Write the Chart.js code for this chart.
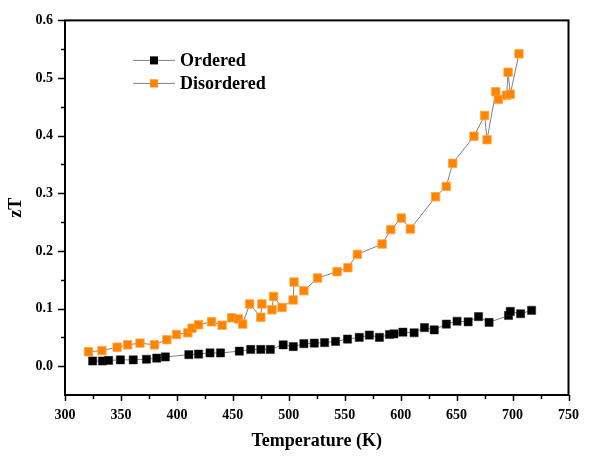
<!DOCTYPE html>
<html>
<head>
<meta charset="utf-8">
<script src="https://cdn.jsdelivr.net/npm/chart.js@4.4.1/dist/chart.umd.min.js"></script>
<style>
  html, body { margin: 0; padding: 0; background: #fff; }
  #wrap { width: 591px; height: 456px; position: relative; }
</style>
</head>
<body>
<div id="wrap"><canvas id="zt"></canvas></div>
<script>
// Measured zT vs temperature for the two samples
const orderedT = [324.7, 333.5, 339, 349.5, 361, 372.8, 382, 389.7, 410.7, 419.4, 429.6, 439,
  455.8, 466, 475, 483.5, 495, 504, 513.5, 522.8, 532, 541.8, 552.5, 563, 572, 581, 590, 594,
  602, 612, 621.3, 630, 640.8, 650.4, 660.3, 669.6, 679, 696.4, 698, 707.2, 717];
const orderedZT = [0.009, 0.009, 0.010, 0.011, 0.011, 0.012, 0.014, 0.016, 0.020, 0.021, 0.023, 0.023,
  0.026, 0.029, 0.029, 0.029, 0.037, 0.034, 0.039, 0.040, 0.041, 0.043, 0.047, 0.050, 0.054, 0.050, 0.055, 0.056,
  0.059, 0.058, 0.067, 0.063, 0.073, 0.078, 0.077, 0.086, 0.076, 0.088, 0.095, 0.091, 0.097];

const disorderedT = [321, 333, 346.6, 356, 367, 380, 391, 399.6, 409.8, 413.6, 419.4, 431, 440.4,
  449, 455, 458.8, 465, 475, 476, 485, 486.4, 494, 503.9, 504.7, 513.5, 525.7, 543.2, 552.8,
  561.3, 583.4, 591.2, 600.6, 608.7, 631.2, 640.8, 646.5, 665.5, 675, 677.2, 685, 687.4,
  694.7, 696, 698, 705.7];
const disorderedZT = [0.025, 0.027, 0.033, 0.037, 0.040, 0.037, 0.046, 0.055, 0.058, 0.066, 0.072, 0.077, 0.071,
  0.084, 0.082, 0.073, 0.108, 0.085, 0.108, 0.098, 0.121, 0.102, 0.115, 0.146, 0.131, 0.153, 0.164, 0.171,
  0.194, 0.212, 0.237, 0.257, 0.238, 0.294, 0.312, 0.352, 0.399, 0.435, 0.393, 0.476, 0.463,
  0.470, 0.510, 0.472, 0.542];

const seriesLabels = ['Ordered', 'Disordered'];
const markerColors = ['#000000', '#FF8400'];

const serif = 'Liberation Serif';

function toPoints(xs, ys) {
  return xs.map((t, i) => ({ x: t, y: ys[i] }));
}

// Box around the plot plus outward major/minor tick marks
const frameAndTicks = {
  id: 'frameAndTicks',
  afterDatasetsDraw(chart) {
    const { ctx, chartArea: a, scales: { x, y } } = chart;
    ctx.save();
    ctx.strokeStyle = '#000';
    ctx.lineWidth = 1.5;
    ctx.beginPath();
    x.ticks.forEach(t => {
      const px = Math.round(x.getPixelForValue(t.value)) + 0.5;
      const len = Math.round(t.value) % 50 === 0 ? 6 : 4;
      ctx.moveTo(px, a.bottom);
      ctx.lineTo(px, a.bottom + len);
    });
    y.ticks.forEach(t => {
      if (t.value < -0.001) return;
      const py = Math.round(y.getPixelForValue(t.value)) + 0.5;
      const len = Math.round(t.value * 100) % 10 === 0 ? 7 : 4;
      ctx.moveTo(a.left, py);
      ctx.lineTo(a.left - len, py);
    });
    ctx.stroke();
    ctx.lineWidth = 2;
    ctx.strokeRect(a.left, a.top, a.right - a.left, a.bottom - a.top);
    ctx.restore();
  }
};

// Legend in the upper-left of the plot: line - marker - line, then the label
const insetLegend = {
  id: 'insetLegend',
  afterDraw(chart) {
    const { ctx, chartArea: a } = chart;
    ctx.save();
    chart.data.datasets.forEach((ds, i) => {
      const yy = a.top + 40 + i * 23;
      const x0 = a.left + 68;
      ctx.strokeStyle = ds.borderColor;
      ctx.lineWidth = 1;
      ctx.beginPath();
      ctx.moveTo(x0, yy);
      ctx.lineTo(x0 + 42, yy);
      ctx.stroke();
      ctx.fillStyle = ds.pointBackgroundColor;
      ctx.fillRect(x0 + 17, yy - 4, 8, 8);
      ctx.fillStyle = '#000';
      ctx.font = 'bold 18px "' + serif + '"';
      ctx.textBaseline = 'middle';
      ctx.textAlign = 'left';
      ctx.fillText(ds.label, x0 + 47, yy + 1);
    });
    ctx.restore();
  }
};

new Chart(document.getElementById('zt'), {
  type: 'scatter',
  data: {
    datasets: [
      {
        label: seriesLabels[0],
        data: toPoints(orderedT, orderedZT),
        showLine: true,
        borderColor: '#808080',
        borderWidth: 1,
        pointStyle: 'rect',
        pointRadius: 5.8,
        pointBackgroundColor: markerColors[0],
        pointBorderColor: '#222',
        pointBorderWidth: 0.5
      },
      {
        label: seriesLabels[1],
        data: toPoints(disorderedT, disorderedZT),
        showLine: true,
        borderColor: '#808080',
        borderWidth: 1,
        pointStyle: 'rect',
        pointRadius: 6,
        pointBackgroundColor: markerColors[1],
        pointBorderColor: '#FFA848',
        pointBorderWidth: 0.8
      }
    ]
  },
  options: {
    responsive: true,
    maintainAspectRatio: false,
    animation: false,
    layout: { padding: { top: 15, right: 11, left: 0, bottom: 0 } },
    plugins: {
      legend: { display: false },
      tooltip: { enabled: false }
    },
    scales: {
      x: {
        type: 'linear',
        min: 300,
        max: 750,
        afterFit: s => { s.height = 61; },
        grid: { display: false, drawTicks: false },
        border: { display: false },
        ticks: {
          stepSize: 25,
          padding: 12,
          color: '#000',
          font: { family: serif, size: 14, weight: 'bold' },
          callback: v => (Math.round(v) % 50 === 0 ? String(v) : '')
        },
        title: {
          display: true,
          text: 'Temperature (K)',
          color: '#000',
          font: { family: serif, size: 18, weight: 'bold' },
          padding: { top: 0, bottom: 4 }
        }
      },
      y: {
        min: -0.05,
        max: 0.6,
        afterFit: s => { s.width = 65; },
        grid: { display: false, drawTicks: false },
        border: { display: false },
        ticks: {
          stepSize: 0.05,
          padding: 12,
          color: '#000',
          font: { family: serif, size: 14, weight: 'bold' },
          callback: v => {
            if (v < -0.001) return '';
            return Math.round(v * 100) % 10 === 0 ? v.toFixed(1) : '';
          }
        },
        title: {
          display: true,
          text: 'zT',
          color: '#000',
          font: { family: serif, size: 18, weight: 'bold' },
          padding: { top: 6, bottom: 0 }
        }
      }
    }
  },
  plugins: [frameAndTicks, insetLegend]
});
</script>
</body>
</html>
